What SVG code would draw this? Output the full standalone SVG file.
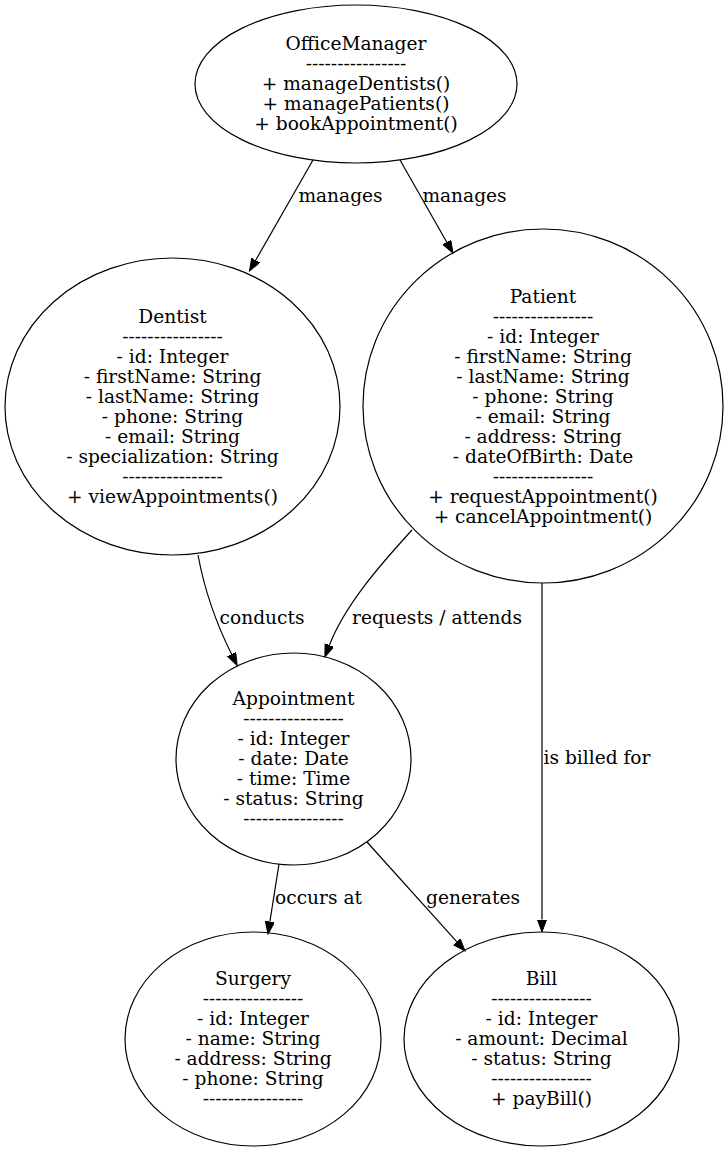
<svg xmlns="http://www.w3.org/2000/svg" width="728" height="1152" viewBox="0 0 728 1152">
<style>
.bg{fill:#ffffff}
.node ellipse{fill:none;stroke:#000;stroke-width:1.2}
.node text,.lbl{font-family:"DejaVu Serif","Liberation Serif",serif;font-size:18.6px;fill:#000;text-anchor:middle}
.edge{fill:none;stroke:#000;stroke-width:1.2;marker-end:url(#arr)}
</style>
<defs>
<marker id="arr" markerUnits="userSpaceOnUse" markerWidth="14" markerHeight="10" refX="0" refY="4.6" orient="auto">
<path d="M0,0 L12.5,4.6 L0,9.2 z" fill="#000" stroke="#000" stroke-width="1"/>
</marker>
</defs>
<rect class="bg" x="0" y="0" width="728" height="1152"/>

<g id="connectors">
<path class="edge" d="M313,160 L255.7,260.2"/>
<text class="lbl" x="340.5" y="201.5">manages</text>
<path class="edge" d="M400,160 L446.8,242.2"/>
<text class="lbl" x="464.5" y="201.5">manages</text>
<path class="edge" d="M198,555 C203,582 212,615 231.6,654.3"/>
<text class="lbl" x="262" y="623.5">conducts</text>
<path class="edge" d="M412,530 C380,565 345,605 329.4,645.2"/>
<text class="lbl" x="437" y="623.5">requests / attends</text>
<path class="edge" d="M542,583 L542,919.5"/>
<text class="lbl" x="597" y="763.5">is billed for</text>
<path class="edge" d="M279,864 L269.9,921.7"/>
<text class="lbl" x="318.5" y="904">occurs at</text>
<path class="edge" d="M367,842 L456.7,941.7"/>
<text class="lbl" x="473" y="904">generates</text>
</g>

<g id="OfficeManager" class="node">
<ellipse cx="356" cy="84" rx="161" ry="79"/>
<text x="356" y="49.5">OfficeManager</text>
<text x="356" y="69.5">----------------</text>
<text x="356" y="89.5">+ manageDentists()</text>
<text x="356" y="109.5">+ managePatients()</text>
<text x="356" y="129.5">+ bookAppointment()</text>
</g>

<g id="Dentist" class="node">
<ellipse cx="172.5" cy="406.5" rx="167.5" ry="148.5"/>
<text x="172.5" y="322.5">Dentist</text>
<text x="172.5" y="342.5">----------------</text>
<text x="172.5" y="362.5">- id: Integer</text>
<text x="172.5" y="382.5">- firstName: String</text>
<text x="172.5" y="402.5">- lastName: String</text>
<text x="172.5" y="422.5">- phone: String</text>
<text x="172.5" y="442.5">- email: String</text>
<text x="172.5" y="462.5">- specialization: String</text>
<text x="172.5" y="482.5">----------------</text>
<text x="172.5" y="502.5">+ viewAppointments()</text>
</g>

<g id="Patient" class="node">
<ellipse cx="543" cy="406" rx="180" ry="177"/>
<text x="543" y="302.5">Patient</text>
<text x="543" y="322.5">----------------</text>
<text x="543" y="342.5">- id: Integer</text>
<text x="543" y="362.5">- firstName: String</text>
<text x="543" y="382.5">- lastName: String</text>
<text x="543" y="402.5">- phone: String</text>
<text x="543" y="422.5">- email: String</text>
<text x="543" y="442.5">- address: String</text>
<text x="543" y="462.5">- dateOfBirth: Date</text>
<text x="543" y="482.5">----------------</text>
<text x="543" y="502.5">+ requestAppointment()</text>
<text x="543" y="522.5">+ cancelAppointment()</text>
</g>

<g id="Appointment" class="node">
<ellipse cx="293.5" cy="759" rx="117.5" ry="106"/>
<text x="293.5" y="704.5">Appointment</text>
<text x="293.5" y="724.5">----------------</text>
<text x="293.5" y="744.5">- id: Integer</text>
<text x="293.5" y="764.5">- date: Date</text>
<text x="293.5" y="784.5">- time: Time</text>
<text x="293.5" y="804.5">- status: String</text>
<text x="293.5" y="824.5">----------------</text>
</g>

<g id="Surgery" class="node">
<ellipse cx="253" cy="1039" rx="128" ry="107"/>
<text x="253" y="984.5">Surgery</text>
<text x="253" y="1004.5">----------------</text>
<text x="253" y="1024.5">- id: Integer</text>
<text x="253" y="1044.5">- name: String</text>
<text x="253" y="1064.5">- address: String</text>
<text x="253" y="1084.5">- phone: String</text>
<text x="253" y="1104.5">----------------</text>
</g>

<g id="Bill" class="node">
<ellipse cx="541.5" cy="1039" rx="137.5" ry="107"/>
<text x="541.5" y="984.5">Bill</text>
<text x="541.5" y="1004.5">----------------</text>
<text x="541.5" y="1024.5">- id: Integer</text>
<text x="541.5" y="1044.5">- amount: Decimal</text>
<text x="541.5" y="1064.5">- status: String</text>
<text x="541.5" y="1084.5">----------------</text>
<text x="541.5" y="1104.5">+ payBill()</text>
</g>
</svg>
